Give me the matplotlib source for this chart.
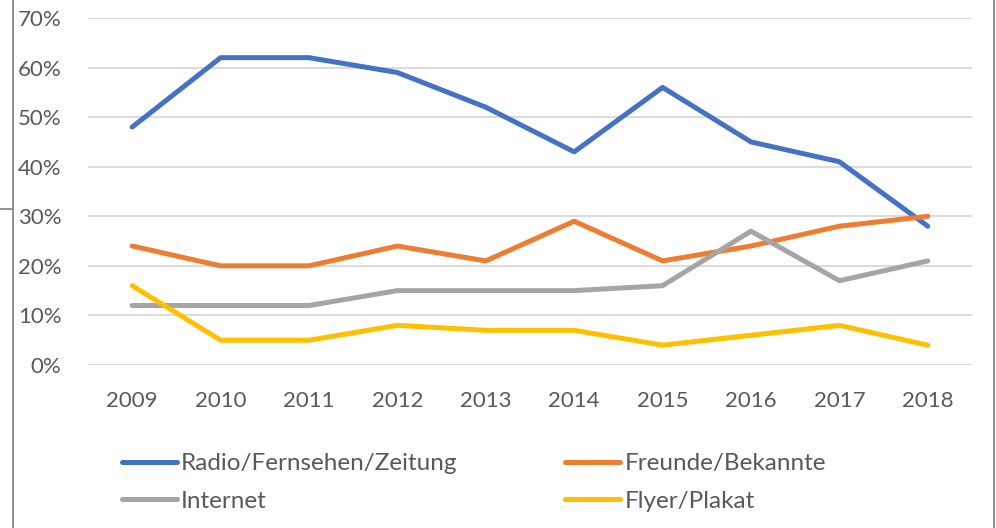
import matplotlib
matplotlib.use("Agg")
import matplotlib.pyplot as plt
from matplotlib.lines import Line2D
from matplotlib.ticker import PercentFormatter

years = ["2009", "2010", "2011", "2012", "2013", "2014", "2015", "2016", "2017", "2018"]
radio = [48, 62, 62, 59, 52, 43, 56, 45, 41, 28]
freunde = [24, 20, 20, 24, 21, 29, 21, 24, 28, 30]
internet = [12, 12, 12, 15, 15, 15, 16, 27, 17, 21]
flyer = [16, 5, 5, 8, 7, 7, 4, 6, 8, 4]
yticks = [0, 10, 20, 30, 40, 50, 60, 70]

series = [
    ("Radio/Fernsehen/Zeitung", radio, "#4472C4"),
    ("Freunde/Bekannte", freunde, "#ED7D31"),
    ("Internet", internet, "#A5A5A5"),
    ("Flyer/Plakat", flyer, "#FFC000"),
]

plt.rcParams['font.family'] = ['Lato', 'DejaVu Sans']
W, H = 996, 528
fig = plt.figure(figsize=(W / 100, H / 100), dpi=100)
ax = fig.add_axes([88 / W, 1 - 365 / H, (972 - 88) / W, (365 - 18) / H])

x = list(range(len(years)))
lines = []
for name, vals, col in series:
    ln, = ax.plot(x, vals, color=col, lw=3.6, solid_capstyle='round', solid_joinstyle='round', label=name)
    lines.append(ln)

ax.set_xlim(-0.5, len(years) - 0.5)
ax.set_ylim(0, 70)
ax.set_yticks(yticks)
ax.yaxis.set_major_formatter(PercentFormatter(decimals=0))
ax.set_xticks(x)
ax.set_xticklabels(years)
ax.grid(axis='y', color='#D9D9D9', lw=1.3)
ax.set_axisbelow(True)
for s in ax.spines.values():
    s.set_visible(False)
ax.tick_params(axis='both', length=0, labelsize=16, labelcolor='#595959')
ax.tick_params(axis='y', pad=19)
ax.tick_params(axis='x', pad=19)

order = [lines[0], lines[2], lines[1], lines[3]]
leg = fig.legend(order, [l.get_label() for l in order], ncol=2, frameon=False,
                 loc='upper left', bbox_to_anchor=(122 / W, 1 - 453 / H),
                 fontsize=17.5, labelcolor='#595959', handlelength=2.26, handletextpad=0.16,
                 columnspacing=4.45, labelspacing=0.68, borderaxespad=0, borderpad=0)

fig.add_artist(Line2D([12.5 / W, 12.5 / W], [0, 1], color='#7F7F7F', lw=1.2))
fig.add_artist(Line2D([994 / W, 994 / W], [0, 1], color='#7F7F7F', lw=1.2))
fig.add_artist(Line2D([0, 12.5 / W], [1 - 209 / H, 1 - 209 / H], color='#7F7F7F', lw=1.2))

fig.savefig("out.png", dpi=100)
